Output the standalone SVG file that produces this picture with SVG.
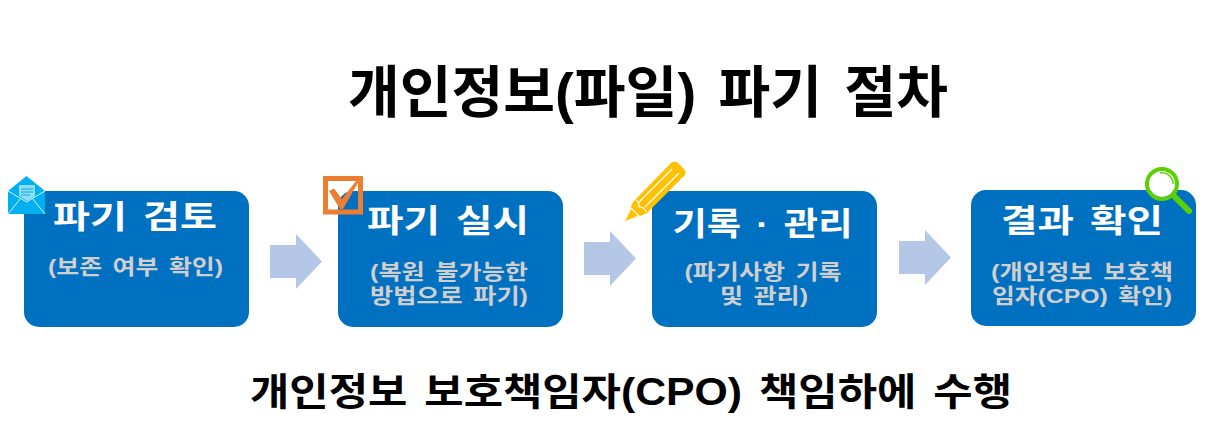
<svg xmlns="http://www.w3.org/2000/svg" width="1223" height="443" viewBox="0 0 1223 443">
<style>
text{font-family:"Liberation Sans","Noto Sans CJK KR",sans-serif;text-anchor:middle}
.box{fill:#0070c0}
.arrow{fill:#b4c7e7}
.h{fill:#fff;font-size:32px;font-weight:700;word-spacing:4px}
.s{fill:#d0cece;font-size:21px;font-weight:700;word-spacing:3px}
.t{fill:#000;font-weight:700;word-spacing:.12em}
</style>
<rect width="1223" height="443" fill="#fff"/>
<text class="t" x="648" y="112" font-size="56" textLength="600" lengthAdjust="spacingAndGlyphs">개인정보(파일) 파기 절차</text>
<g id="connectors">
<path class="arrow" d="M270 245H296V234L322 261.500L296 289V278H270Z"/>
<path class="arrow" d="M584 242H610V231L636 258.500L610 286V275H584Z"/>
<path class="arrow" d="M899 241H925V230L951 257.500L925 285V274H899Z"/>
</g>
<g id="node-review">
<rect class="box" x="24" y="191" width="225" height="136" rx="15"/>
<text class="h" x="135" y="228" textLength="164" lengthAdjust="spacingAndGlyphs">파기 검토</text>
<text class="s" x="135.500" y="274" textLength="175" lengthAdjust="spacingAndGlyphs">(보존 여부 확인)</text>
<g id="icon-mail">
<path fill="#00b0f0" d="M8 191L26.500 176L45 191V214H8Z"/>
<path fill="#8fdcf8" d="M19 185H35V196L27 201L19 196Z"/>
<path stroke="#00b0f0" stroke-width="1.200" d="M21 189H33M21 192H33M21 195H30"/>
<path fill="none" stroke="#d5f3fd" stroke-width="1" d="M8 191L26.500 202L45 191M8 214L21 198M45 214L32 198"/>
</g>
</g>
<g id="node-execute">
<rect class="box" x="338" y="191" width="225" height="136" rx="15"/>
<text class="h" x="448" y="232" textLength="162" lengthAdjust="spacingAndGlyphs">파기 실시</text>
<text class="s" x="449" y="279"><tspan x="449" textLength="158" lengthAdjust="spacingAndGlyphs">(복원 불가능한</tspan><tspan x="449" dy="24" textLength="158" lengthAdjust="spacingAndGlyphs">방법으로 파기)</tspan></text>
<g id="icon-check">
<rect x="325.500" y="178.500" width="35" height="33.500" fill="none" stroke="#ed7d31" stroke-width="5"/>
<path fill="#ed7d31" d="M329 191L334 188.500L342 199L356 181H359L343 209H340Z"/>
</g>
</g>
<g id="node-record">
<rect class="box" x="652" y="191" width="225" height="136" rx="15"/>
<text class="h" x="762.500" y="235" textLength="180" lengthAdjust="spacingAndGlyphs">기록 · 관리</text>
<text class="s" x="763" y="279"><tspan x="763" textLength="157" lengthAdjust="spacingAndGlyphs">(파기사항 기록</tspan><tspan x="764" dy="24" textLength="88" lengthAdjust="spacingAndGlyphs">및 관리)</tspan></text>
<g id="icon-pencil">
<path fill="#ffc000" d="M623 223L633 202L671 163Q675 160 678 163L684 169Q687 173 684 176L647 213Z"/>
<path fill="none" stroke="#fff" stroke-width="1.200" d="M636 200Q640 203 639 207Q645 207 646 212M639 202L672 169M645 207L679 173M624 222L631 208L639 216Z"/>
</g>
</g>
<g id="node-confirm">
<rect class="box" x="971" y="190" width="225" height="136" rx="15"/>
<text class="h" x="1082" y="232" textLength="162" lengthAdjust="spacingAndGlyphs">결과 확인</text>
<text class="s" x="1082" y="279"><tspan x="1082" textLength="182" lengthAdjust="spacingAndGlyphs">(개인정보 보호책</tspan><tspan x="1082" dy="24" textLength="180" lengthAdjust="spacingAndGlyphs">임자(CPO) 확인)</tspan></text>
<g id="icon-magnifier">
<path stroke="#5ad100" stroke-width="6" stroke-linecap="round" d="M1174 196L1189 211"/>
<circle cx="1162" cy="184" r="13" fill="#fff"/>
<circle cx="1162" cy="184" r="15" fill="none" stroke="#5ad100" stroke-width="4"/>
<path fill="none" stroke="#5ad100" stroke-width="1.500" d="M1160 173A11 11 0 0 1 1173 184"/>
</g>
</g>
<text class="t" x="631" y="405" font-size="38" textLength="762" lengthAdjust="spacingAndGlyphs">개인정보 보호책임자(CPO) 책임하에 수행</text>
</svg>
